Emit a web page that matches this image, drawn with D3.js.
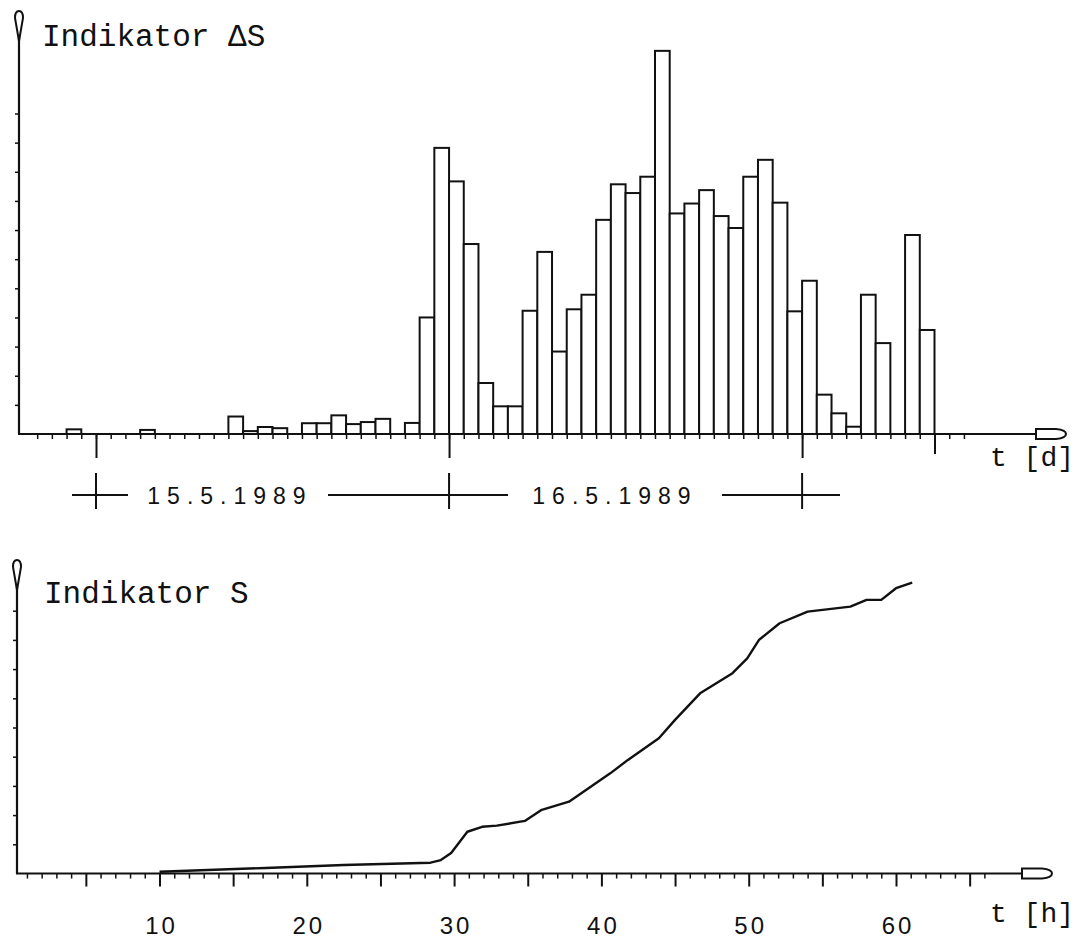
<!DOCTYPE html>
<html>
<head>
<meta charset="utf-8">
<script src="https://cdn.jsdelivr.net/npm/d3@7"></script>
<style>
body { margin: 0; background: #fff; }
</style>
</head>
<body>
<svg width="1084" height="941"></svg>
<script>
// hourly increments, slot = hours since 15.5.1989 00:00
const deltaSlots  = [-2, 3, 9, 10, 11, 12, 14, 15, 16, 17, 18, 19, 21,
  22, 23, 24, 25, 26, 27, 28, 29, 30, 31, 32, 33, 34, 35, 36, 37, 38, 39,
  40, 41, 42, 43, 44, 45, 46, 47, 48, 49, 50, 51, 52, 53, 55, 56];
const deltaValues = [0.16, 0.14, 0.6, 0.1, 0.24, 0.2, 0.37, 0.37, 0.64, 0.34, 0.41, 0.52, 0.38,
  4.0, 9.82, 8.67, 6.52, 1.75, 0.95, 0.95, 4.23, 6.25, 2.83, 4.28, 4.78, 7.35, 8.57, 8.27, 8.83, 13.15, 7.57,
  7.91, 8.37, 7.48, 7.07, 8.83, 9.41, 7.94, 4.21, 5.26, 1.35, 0.71, 0.25, 4.78, 3.12, 6.83, 3.57];

// cumulative indicator S over t [h]
const sHours  = [10.0, 17.2, 22.5, 28.4, 29.1, 29.8, 30.9, 31.9, 32.9, 34.8, 35.9, 37.8, 40.6,
  41.8, 43.9, 45.0, 46.7, 48.9, 49.9, 50.7, 52.1, 54.0, 56.9, 58.0, 59.0, 60.0, 61.1];
const sValues = [0.06, 0.19, 0.29, 0.37, 0.46, 0.70, 1.43, 1.60, 1.64, 1.80, 2.17, 2.46, 3.43,
  3.89, 4.63, 5.26, 6.17, 6.86, 7.37, 8.00, 8.57, 8.97, 9.14, 9.37, 9.37, 9.77, 9.96];

const hourLabels = [10, 20, 30, 40, 50, 60];
const dayLabels = ["15.5.1989", "16.5.1989"];

const svg = d3.select("svg");
const ink = "#111";
const mono = "'Liberation Mono', 'DejaVu Sans Mono', monospace";
const sans = "'Liberation Sans', Arial, sans-serif";

// ---------- top chart ----------
const xTop = d3.scaleLinear().domain([0, 57]).range([96, 934.5]);
const yTop = d3.scaleLinear().domain([0, 11]).range([434, 113.5]);
const slotW = xTop(1) - xTop(0);

svg.append("g").selectAll("rect")
  .data(deltaSlots.map((s, i) => ({s: s, v: deltaValues[i]})))
  .join("rect")
  .attr("x", d => xTop(d.s))
  .attr("y", d => yTop(d.v))
  .attr("width", slotW)
  .attr("height", d => yTop(0) - yTop(d.v))
  .attr("fill", "#fff")
  .attr("stroke", ink)
  .attr("stroke-width", 2);

// minor ticks on time axis
const gxt = svg.append("g")
  .attr("transform", `translate(0,${yTop(0)})`)
  .call(d3.axisBottom(xTop).tickValues(d3.range(-4, 60)).tickSize(5).tickFormat(""));
gxt.select(".domain").remove();
gxt.selectAll("line").attr("stroke", ink).attr("stroke-width", 1.5);

// day marks
const gdt = svg.append("g")
  .attr("transform", `translate(0,${yTop(0)})`)
  .call(d3.axisBottom(xTop).tickValues([0, 24, 48]).tickSize(24).tickFormat(""));
gdt.select(".domain").remove();
gdt.selectAll("line").attr("stroke", ink).attr("stroke-width", 2);

const gend = svg.append("g")
  .attr("transform", `translate(0,${yTop(0)})`)
  .call(d3.axisBottom(xTop).tickValues([57]).tickSize(20).tickFormat(""));
gend.select(".domain").remove();
gend.selectAll("line").attr("stroke", ink).attr("stroke-width", 2);

const gyt = svg.append("g")
  .attr("transform", "translate(19,0)")
  .call(d3.axisLeft(yTop).tickValues(d3.range(1, 12)).tickSize(4).tickFormat(""));
gyt.select(".domain").remove();
gyt.selectAll("line").attr("stroke", ink).attr("stroke-width", 1.5);

function vArrow(x, yb, yt) {
  svg.append("line").attr("x1", x).attr("x2", x).attr("y1", yb).attr("y2", yt + 26)
    .attr("stroke", ink).attr("stroke-width", 2.2);
  svg.append("path")
    .attr("d", `M${x},${yt + 30} L${x - 4},${yt + 7} Q${x - 4},${yt} ${x},${yt} Q${x + 4},${yt} ${x + 4},${yt + 7} Z`)
    .attr("fill", "#fff").attr("stroke", ink).attr("stroke-width", 2);
}
function hArrow(y, xl, xr) {
  svg.append("line").attr("x1", xl).attr("x2", xr - 28).attr("y1", y).attr("y2", y)
    .attr("stroke", ink).attr("stroke-width", 2.2);
  svg.append("path")
    .attr("d", `M${xr - 30},${y - 5} L${xr - 10},${y - 5} Q${xr},${y - 4} ${xr},${y} Q${xr},${y + 4} ${xr - 10},${y + 5} L${xr - 30},${y + 5} Z`)
    .attr("fill", "#fff").attr("stroke", ink).attr("stroke-width", 2);
}

vArrow(19, yTop(0), 11);
hArrow(yTop(0), 18, 1066);

svg.append("text").attr("x", 42).attr("y", 46)
  .attr("font-family", mono).attr("font-size", 31).attr("fill", ink)
  .text("Indikator \u0394S");
svg.append("text").attr("x", 990).attr("y", 466)
  .attr("font-family", mono).attr("font-size", 28).attr("fill", ink)
  .text("t [d]");

// date row
const yDate = 495;
[0, 24, 48].forEach(s => {
  svg.append("line").attr("x1", xTop(s)).attr("x2", xTop(s))
    .attr("y1", yDate - 22).attr("y2", yDate + 14)
    .attr("stroke", ink).attr("stroke-width", 2);
});
const dateLines = [[72, 128], [328, 508], [722, 840]];
dateLines.forEach(p => {
  svg.append("line").attr("x1", p[0]).attr("x2", p[1]).attr("y1", yDate).attr("y2", yDate)
    .attr("stroke", ink).attr("stroke-width", 2);
});
svg.selectAll(".day").data(dayLabels).join("text")
  .attr("class", "day")
  .attr("x", (d, i) => [230, 615][i])
  .attr("y", yDate + 9)
  .attr("text-anchor", "middle")
  .attr("font-family", sans).attr("font-size", 23).attr("letter-spacing", 7)
  .attr("fill", ink)
  .text(d => d);

// ---------- bottom chart ----------
const xBot = d3.scaleLinear().domain([10, 60]).range([159.5, 896]);
const yBot = d3.scaleLinear().domain([0, 9]).range([873.5, 610.7]);

const gxb = svg.append("g")
  .attr("transform", `translate(0,${yBot(0)})`)
  .call(d3.axisBottom(xBot).tickValues(d3.range(1, 67).filter(h => h % 5)).tickSize(5).tickFormat(""));
gxb.select(".domain").remove();
gxb.selectAll("line").attr("stroke", ink).attr("stroke-width", 1.5);

const gxm = svg.append("g")
  .attr("transform", `translate(0,${yBot(0)})`)
  .call(d3.axisBottom(xBot).tickValues(d3.range(5, 70, 5)).tickSize(13).tickFormat(""));
gxm.select(".domain").remove();
gxm.selectAll("line").attr("stroke", ink).attr("stroke-width", 2);

svg.selectAll(".hl").data(hourLabels).join("text")
  .attr("class", "hl")
  .attr("x", d => xBot(d) + 2)
  .attr("y", 934)
  .attr("text-anchor", "middle")
  .attr("font-family", sans).attr("font-size", 24).attr("letter-spacing", 3)
  .attr("fill", ink)
  .text(d => d);

const gyb = svg.append("g")
  .attr("transform", "translate(17,0)")
  .call(d3.axisLeft(yBot).tickValues(d3.range(1, 10)).tickSize(4).tickFormat(""));
gyb.select(".domain").remove();
gyb.selectAll("line").attr("stroke", ink).attr("stroke-width", 1.5);

vArrow(17, yBot(0), 560);
hArrow(yBot(0), 16, 1052);

svg.append("path")
  .datum(sHours.map((h, i) => [h, sValues[i]]))
  .attr("d", d3.line().x(d => xBot(d[0])).y(d => yBot(d[1])))
  .attr("fill", "none").attr("stroke", ink).attr("stroke-width", 2.4)
  .attr("stroke-linejoin", "round");

svg.append("text").attr("x", 44).attr("y", 603)
  .attr("font-family", mono).attr("font-size", 31).attr("fill", ink)
  .text("Indikator S");
svg.append("text").attr("x", 990).attr("y", 922)
  .attr("font-family", mono).attr("font-size", 28).attr("fill", ink)
  .text("t [h]");
</script>
</body>
</html>
